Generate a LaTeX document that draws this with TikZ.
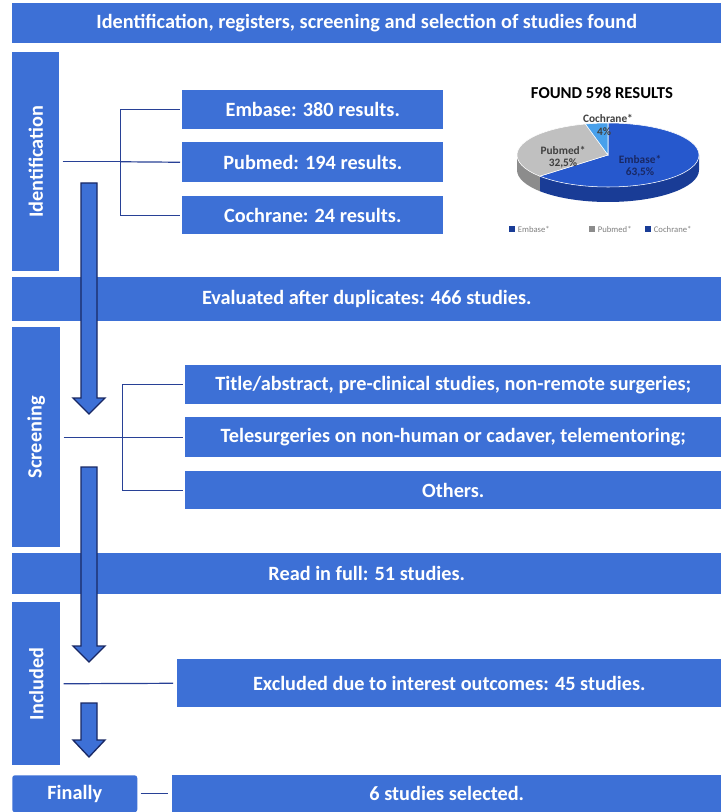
\documentclass[tikz,border=0pt]{standalone}
\usepackage{fontspec}
\setmainfont{Carlito}
\usepackage{graphicx}
\usetikzlibrary{positioning}

\definecolor{flowblue}{RGB}{61,112,214}
\definecolor{linkblue}{RGB}{40,65,150}
\definecolor{arrownavy}{RGB}{25,40,100}
\definecolor{embblue}{RGB}{38,88,205}
\definecolor{embwall}{RGB}{25,60,150}
\definecolor{pubgray}{RGB}{192,192,192}
\definecolor{pubwall}{RGB}{140,140,140}
\definecolor{cochblue}{RGB}{72,160,235}

\newcommand{\pxu}{0.75pt}

\tikzset{
  flowbox/.style={fill=flowblue, text=white, inner sep=0pt, anchor=north west,
    font=\bfseries\fontsize{15.2}{17}\selectfont},
  branch/.style={draw=linkblue, line width=0.9pt},
  blockarrow/.style={fill=flowblue, draw=arrownavy, line width=1pt, line join=miter},
  pielabel/.style={font=\bfseries\fontsize{8.5}{9}\selectfont, inner sep=0pt},
  legendkey/.style={minimum size=4pt, inner sep=0pt},
  legendtext/.style={font=\fontsize{6.5}{7}\selectfont, text=gray, inner sep=0pt}
}

\begin{document}
\begin{tikzpicture}[x=0.75pt, y=-0.75pt]
  \fill[white] (0,0) rectangle (721,812);
  \useasboundingbox (0,0) rectangle (721,812);

  % bars across the page
  \node[flowbox, minimum width=709*\pxu, minimum height=40*\pxu] (header) at (12,3)
    {Identification, registers, screening and selection of studies found};
  \node[flowbox, minimum width=709*\pxu, minimum height=44*\pxu] (evaluated) at (12,277)
    {Evaluated after duplicates: 466 studies.};
  \node[flowbox, minimum width=709*\pxu, minimum height=41*\pxu] (readfull) at (12,553)
    {Read in full: 51 studies.};

  % stages on the left
  \node[flowbox, minimum width=47*\pxu, minimum height=219*\pxu] (ident) at (12,52)
    {\rotatebox{90}{Identification}};
  \node[flowbox, minimum width=48*\pxu, minimum height=220*\pxu] (screen) at (12,327)
    {\rotatebox{90}{Screening}};
  \node[flowbox, minimum width=48*\pxu, minimum height=163*\pxu] (included) at (12,602)
    {\rotatebox{90}{Included}};
  \node[flowbox, rounded corners=2pt, minimum width=125*\pxu, minimum height=37*\pxu] (finally) at (12,775)
    {Finally};

  % databases
  \node[flowbox, minimum width=261*\pxu, minimum height=39*\pxu] (embase) at (182,90)
    {Embase: 380 results.};
  \node[flowbox, minimum width=261*\pxu, minimum height=40*\pxu] (pubmed) at (182,142)
    {Pubmed: 194 results.};
  \node[flowbox, minimum width=261*\pxu, minimum height=38*\pxu] (cochrane) at (182,196)
    {Cochrane: 24 results.};

  % exclusions
  \node[flowbox, minimum width=536*\pxu, minimum height=39*\pxu] (titleabs) at (185,365)
    {Title/abstract, pre-clinical studies, non-remote surgeries;};
  \node[flowbox, minimum width=536*\pxu, minimum height=40*\pxu] (telesurg) at (185,417)
    {Telesurgeries on non-human or cadaver, telementoring;};
  \node[flowbox, minimum width=536*\pxu, minimum height=38*\pxu] (others) at (185,471)
    {Others.};
  \node[flowbox, minimum width=544*\pxu, minimum height=48*\pxu] (excluded) at (177,659)
    {Excluded due to interest outcomes: 45 studies.};
  \node[flowbox, minimum width=549*\pxu, minimum height=37*\pxu] (selected) at (172,775)
    {6 studies selected.};

  % branches
  \path (ident.east) ++(61,0) coordinate (idsplit);
  \draw[branch, shorten <=3*\pxu] (ident.east) -- (idsplit);
  \draw[branch, shorten >=2*\pxu] (idsplit) |- (embase.west);
  \draw[branch, shorten >=2*\pxu] (idsplit) -- (pubmed.west);
  \draw[branch, shorten >=2*\pxu] (idsplit) |- (cochrane.west);

  \path (screen.east) ++(62,0) coordinate (scsplit);
  \draw[branch, shorten <=3*\pxu] (screen.east) -- (scsplit);
  \draw[branch, shorten >=2*\pxu] (scsplit) |- (titleabs.west);
  \draw[branch, shorten >=2*\pxu] (scsplit) -- (telesurg.west);
  \draw[branch, shorten >=2*\pxu] (scsplit) |- (others.west);

  \draw[branch, shorten <=3*\pxu, shorten >=4*\pxu] (included.east) -- (excluded.west);
  \draw[branch, shorten <=3*\pxu, shorten >=4*\pxu] (finally.east) -- (selected.west);

  % block arrows
  \draw[blockarrow] (81,183) -- (81,398) -- (73,398) -- (89,414) -- (105,398) -- (97,398) -- (97,183) -- cycle;
  \draw[blockarrow] (81,467) -- (81,646) -- (73,646) -- (89,662) -- (105,646) -- (97,646) -- (97,467) -- cycle;
  \draw[blockarrow] (81,703) -- (81,740) -- (73,740) -- (89,757) -- (105,740) -- (97,740) -- (97,703) -- cycle;

  % pie chart
  \node[font=\bfseries\fontsize{12.5}{14}\selectfont, inner sep=0pt] (pietitle) at (602,93) {FOUND 598 RESULTS};
  \begin{scope}[shift={(608,155)}, x=0.75pt, y=0.75pt]
    \fill[embwall] ({91*cos(221.4)},{32*sin(221.4)}) arc[start angle=221.4, end angle=360, x radius=91, y radius=32]
      -- ++(0,-15) arc[start angle=360, end angle=221.4, x radius=91, y radius=32] -- cycle;
    \fill[pubwall] (-91,0) arc[start angle=180, end angle=221.4, x radius=91, y radius=32]
      -- ++(0,-15) arc[start angle=221.4, end angle=180, x radius=91, y radius=32] -- cycle;
    \filldraw[fill=embblue, draw=white, line width=0.4pt] (0,0) -- (0,32)
      arc[start angle=90, end angle=-138.6, x radius=91, y radius=32] -- cycle;
    \filldraw[fill=pubgray, draw=white, line width=0.4pt] (0,0) -- ({91*cos(221.4)},{32*sin(221.4)})
      arc[start angle=221.4, end angle=104.4, x radius=91, y radius=32] -- cycle;
    \filldraw[fill=cochblue, draw=white, line width=0.4pt] (0,0) -- ({91*cos(104.4)},{32*sin(104.4)})
      arc[start angle=104.4, end angle=90, x radius=91, y radius=32] -- cycle;
  \end{scope}
  \node[pielabel, text=black!75] (cochlab) at (608,118) {Cochrane*};
  \node[pielabel, text=black!75] (cochpct) at (604,132) {4\%};
  \node[pielabel, text=black!75] (publab) at (563,150) {Pubmed*};
  \node[pielabel, text=black!75] (pubpct) at (563,163) {32,5\%};
  \node[pielabel, text=arrownavy] (emblab) at (640,159) {Embase*};
  \node[pielabel, text=arrownavy] (embpct) at (640,172) {63,5\%};

  % legend
  \node[legendkey, fill=embwall] (keyemb) at (512,229) {};
  \node[legendtext, right=2pt of keyemb] (txtemb) {Embase*};
  \node[legendkey, fill=pubwall] (keypub) at (592,229) {};
  \node[legendtext, right=2pt of keypub] (txtpub) {Pubmed*};
  \node[legendkey, fill=embwall] (keycoch) at (648,229) {};
  \node[legendtext, right=2pt of keycoch] (txtcoch) {Cochrane*};
\end{tikzpicture}
\end{document}
